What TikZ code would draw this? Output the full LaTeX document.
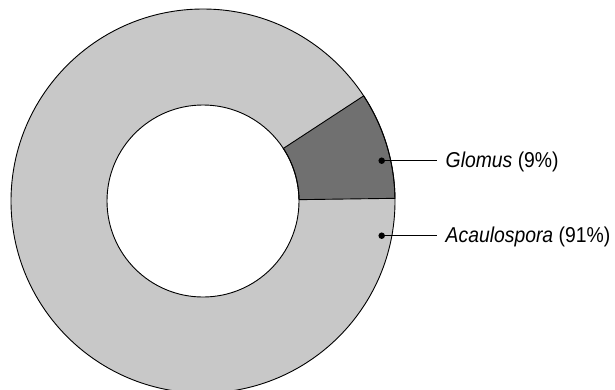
\documentclass[tikz,border=0pt]{standalone}
\usepackage{fontspec}
\setmainfont{Liberation Sans}
\usetikzlibrary{calc}
\definecolor{lightg}{HTML}{C8C8C8}
\definecolor{darkg}{HTML}{707070}
\newcommand{\cond}[1]{\scalebox{0.9}[1]{#1}}
\tikzset{
  ring/.style={draw=black, line width=0.9pt},
  dotmark/.style={circle, fill=black, inner sep=0pt, minimum size=6.5pt},
  leader/.style={draw=black, line width=0.9pt},
  lbl/.style={anchor=base west, inner xsep=8.5pt, inner ysep=0pt, font=\fontsize{21.5}{24}\selectfont}
}
\begin{document}
\begin{tikzpicture}[x=1pt,y=-1pt]
\useasboundingbox (0,0) rectangle (615,389);
\begin{scope}
\clip (0,0) rectangle (615,389);
\coordinate (c) at (203,201);
\fill[lightg, even odd rule] (c) circle (192) (c) circle (96);
\draw[ring, fill=darkg] ($(c)+(-0.8:96)$) -- ($(c)+(-0.8:192)$)
  arc[start angle=-0.8, end angle=-33.2, radius=192]
  -- ($(c)+(-33.2:96)$)
  arc[start angle=-33.2, end angle=-0.8, radius=96] -- cycle;
\draw[ring] (c) circle (192);
\draw[ring] (c) circle (96);
\end{scope}
\node[dotmark] (gd) at (381.7,160.7) {};
\node[dotmark] (ad) at (381.7,235.7) {};
\node[lbl] (gl) at (437,167.5) {\cond{\textit{Glomus} (9\%)}};
\node[lbl] (al) at (437,242) {\cond{\textit{Acaulospora} (91\%)}};
\draw[leader] (gd.center) -- (gd.center -| gl.west);
\draw[leader] (ad.center) -- (ad.center -| al.west);
\end{tikzpicture}
\end{document}
